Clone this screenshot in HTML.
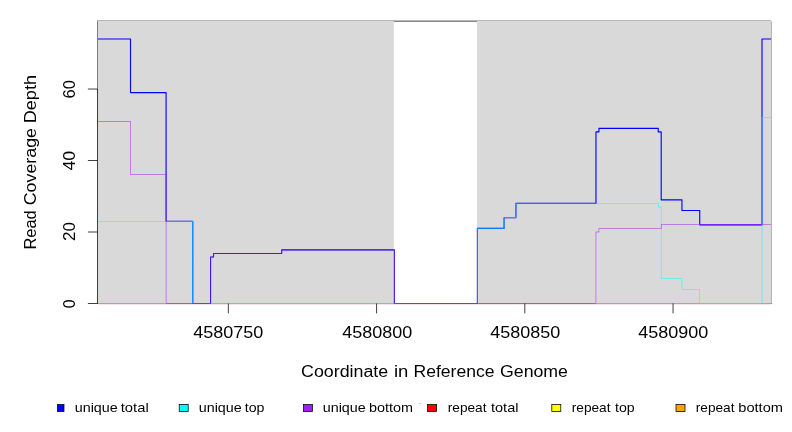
<!DOCTYPE html>
<html><head><meta charset="utf-8"><title>Read Coverage Depth</title>
<style>html,body{margin:0;padding:0;background:#fff;}body{width:792px;height:432px;position:relative;overflow:hidden;font-family:"Liberation Sans",sans-serif;}</style>
</head><body>
<svg width="792" height="432" viewBox="0 0 792 432" style="position:absolute;left:0;top:0">
<rect x="0" y="0" width="792" height="432" fill="#fff"/>
<path d="M97.00,21.13H770.90V303.30" fill="none" stroke="#000" stroke-width="0.75"/>
<rect x="98" y="21" width="295.80" height="282" fill="#d9d9d9"/>
<rect x="477.00" y="21" width="294.00" height="282" fill="#d9d9d9"/>
<rect x="97" y="21" width="1" height="69" fill="#808080"/>
<line x1="97.5" y1="89.02" x2="97.5" y2="303.88" stroke="#000" stroke-width="0.75"/>
<line x1="87.9" y1="303.50" x2="97.5" y2="303.50" stroke="#000" stroke-width="0.75"/>
<line x1="87.9" y1="232.01" x2="97.5" y2="232.01" stroke="#000" stroke-width="0.75"/>
<line x1="87.9" y1="160.51" x2="97.5" y2="160.51" stroke="#000" stroke-width="0.75"/>
<line x1="87.9" y1="89.02" x2="97.5" y2="89.02" stroke="#000" stroke-width="0.75"/>
<clipPath id="c"><rect x="98" y="21.13" width="673" height="283.17"/></clipPath>
<g clip-path="url(#c)" fill="none" stroke-linejoin="round" stroke-linecap="round">
<path d="M94.90,38.97H130.50V92.59H166.08V221.28H192.76V303.50H210.55V257.03H213.52V253.45H281.71V249.88H394.37V303.50H477.38V228.43H504.07V217.71H515.92V203.41H595.97V131.91H598.94V128.34H658.23V131.91H661.20V199.83H681.95V210.56H699.74V224.86H762.00V38.97H773.90" stroke="#0000ff" stroke-width="1.125"/>
<path d="M94.65,221.03H193.01V221.53H94.65ZM192.51,221.03H193.01V303.75H192.51ZM192.51,303.25H477.63V303.75H192.51ZM477.13,228.18H477.63V303.75H477.13ZM477.13,228.18H504.32V228.68H477.13ZM503.82,217.46H504.32V228.68H503.82ZM503.82,217.46H516.17V217.96H503.82ZM515.67,203.16H516.17V217.96H515.67ZM515.67,203.16H658.48V203.66H515.67ZM657.98,203.16H658.48V207.23H657.98ZM657.98,206.73H661.45V207.23H657.98ZM660.95,206.73H661.45V278.73H660.95ZM660.95,278.23H682.20V278.73H660.95ZM681.70,278.23H682.20V289.45H681.70ZM681.70,288.95H699.99V289.45H681.70ZM699.49,288.95H699.99V303.75H699.49ZM699.49,303.25H762.25V303.75H699.49ZM761.75,117.37H762.25V303.75H761.75ZM761.75,117.37H774.15V117.87H761.75Z" fill="#00ffff" stroke="none"/>
<path d="M94.65,120.94H130.75V121.44H94.65ZM130.25,120.94H130.75V175.06H130.25ZM130.25,174.56H166.33V175.06H130.25ZM165.83,174.56H166.33V303.75H165.83ZM165.83,303.25H210.80V303.75H165.83ZM210.30,256.78H210.80V303.75H210.30ZM210.30,256.78H213.77V257.28H210.30ZM213.27,253.20H213.77V257.28H213.27ZM213.27,253.20H281.96V253.70H213.27ZM281.46,249.63H281.96V253.70H281.46ZM281.46,249.63H394.62V250.13H281.46ZM394.12,249.63H394.62V303.75H394.12ZM394.12,303.25H596.22V303.75H394.12ZM595.72,231.76H596.22V303.75H595.72ZM595.72,231.76H599.19V232.26H595.72ZM598.69,228.18H599.19V232.26H598.69ZM598.69,228.18H661.45V228.68H598.69ZM660.95,224.61H661.45V228.68H660.95ZM660.95,224.61H774.15V225.11H660.95Z" fill="#a020f0" stroke="none"/>
</g>
<rect x="98" y="304" width="673" height="1" fill="#f6e4ea"/>
<rect x="98" y="303" width="68.00" height="1" fill="#ff9805"/>
<rect x="166" y="303" width="26.30" height="1" fill="#cd557d"/>
<rect x="192.3" y="303" width="19.10" height="1" fill="#5048f8"/>
<rect x="211.4" y="303" width="182.30" height="1" fill="#78cd87"/>
<rect x="393.7" y="303" width="84.40" height="1" fill="#5048f8"/>
<rect x="478.1" y="303" width="117.80" height="1" fill="#cd557d"/>
<rect x="595.9" y="303" width="103.90" height="1" fill="#ff9805"/>
<rect x="699.8" y="303" width="62.20" height="1" fill="#78cd87"/>
<rect x="762" y="303" width="9.00" height="1" fill="#ff9805"/>
<rect x="771" y="303" width="1.00" height="1" fill="#e27a5a"/>
<line x1="228.34" y1="303.5" x2="228.34" y2="313.4" stroke="#000" stroke-width="0.75"/>
<line x1="376.58" y1="303.5" x2="376.58" y2="313.4" stroke="#000" stroke-width="0.75"/>
<line x1="524.82" y1="303.5" x2="524.82" y2="313.4" stroke="#000" stroke-width="0.75"/>
<line x1="673.06" y1="303.5" x2="673.06" y2="313.4" stroke="#000" stroke-width="0.75"/>
<g style="opacity:0.999">
<text x="193.26" y="337.7" font-family="Liberation Sans, sans-serif" font-size="16" textLength="69.98" lengthAdjust="spacingAndGlyphs">4580750</text>
<text x="342.25" y="337.7" font-family="Liberation Sans, sans-serif" font-size="16" textLength="69.99" lengthAdjust="spacingAndGlyphs">4580800</text>
<text x="490.25" y="337.7" font-family="Liberation Sans, sans-serif" font-size="16" textLength="69.99" lengthAdjust="spacingAndGlyphs">4580850</text>
<text x="638.26" y="337.7" font-family="Liberation Sans, sans-serif" font-size="16" textLength="69.98" lengthAdjust="spacingAndGlyphs">4580900</text>
<text x="74.8" y="308.20" font-family="Liberation Sans, sans-serif" font-size="16" textLength="8.89" lengthAdjust="spacingAndGlyphs" transform="rotate(-90 74.8 308.20)">0</text>
<text x="74.8" y="240.98" font-family="Liberation Sans, sans-serif" font-size="16" textLength="18.97" lengthAdjust="spacingAndGlyphs" transform="rotate(-90 74.8 240.98)">20</text>
<text x="74.8" y="170.48" font-family="Liberation Sans, sans-serif" font-size="16" textLength="19.70" lengthAdjust="spacingAndGlyphs" transform="rotate(-90 74.8 170.48)">40</text>
<text x="74.8" y="98.47" font-family="Liberation Sans, sans-serif" font-size="16" textLength="18.45" lengthAdjust="spacingAndGlyphs" transform="rotate(-90 74.8 98.47)">60</text>
<text x="301.00" y="376.8" font-family="Liberation Sans, sans-serif" font-size="16" textLength="87.24" lengthAdjust="spacingAndGlyphs">Coordinate</text>
<text x="393.93" y="376.8" font-family="Liberation Sans, sans-serif" font-size="16" textLength="14.39" lengthAdjust="spacingAndGlyphs">in</text>
<text x="413.50" y="376.8" font-family="Liberation Sans, sans-serif" font-size="16" textLength="81.01" lengthAdjust="spacingAndGlyphs">Reference</text>
<text x="500.00" y="376.8" font-family="Liberation Sans, sans-serif" font-size="16" textLength="67.99" lengthAdjust="spacingAndGlyphs">Genome</text>
<text x="35.7" y="249.52" font-family="Liberation Sans, sans-serif" font-size="16" textLength="39.28" lengthAdjust="spacingAndGlyphs" transform="rotate(-90 35.7 249.52)">Read</text>
<text x="35.7" y="205.25" font-family="Liberation Sans, sans-serif" font-size="16" textLength="77.24" lengthAdjust="spacingAndGlyphs" transform="rotate(-90 35.7 205.25)">Coverage</text>
<text x="35.7" y="123.28" font-family="Liberation Sans, sans-serif" font-size="16" textLength="48.30" lengthAdjust="spacingAndGlyphs" transform="rotate(-90 35.7 123.28)">Depth</text>
<text x="74.77" y="412.2" font-family="Liberation Sans, sans-serif" font-size="12.6" textLength="42.99" lengthAdjust="spacingAndGlyphs">unique</text>
<text x="120.76" y="412.2" font-family="Liberation Sans, sans-serif" font-size="12.6" textLength="27.97" lengthAdjust="spacingAndGlyphs">total</text>
<text x="198.77" y="412.2" font-family="Liberation Sans, sans-serif" font-size="12.6" textLength="42.99" lengthAdjust="spacingAndGlyphs">unique</text>
<text x="244.76" y="412.2" font-family="Liberation Sans, sans-serif" font-size="12.6" textLength="19.70" lengthAdjust="spacingAndGlyphs">top</text>
<text x="322.76" y="412.2" font-family="Liberation Sans, sans-serif" font-size="12.6" textLength="42.99" lengthAdjust="spacingAndGlyphs">unique</text>
<text x="369.00" y="412.2" font-family="Liberation Sans, sans-serif" font-size="12.6" textLength="44.00" lengthAdjust="spacingAndGlyphs">bottom</text>
<text x="447.77" y="412.2" font-family="Liberation Sans, sans-serif" font-size="12.6" textLength="38.72" lengthAdjust="spacingAndGlyphs">repeat</text>
<text x="491.01" y="412.2" font-family="Liberation Sans, sans-serif" font-size="12.6" textLength="27.46" lengthAdjust="spacingAndGlyphs">total</text>
<text x="571.77" y="412.2" font-family="Liberation Sans, sans-serif" font-size="12.6" textLength="38.72" lengthAdjust="spacingAndGlyphs">repeat</text>
<text x="615.02" y="412.2" font-family="Liberation Sans, sans-serif" font-size="12.6" textLength="19.69" lengthAdjust="spacingAndGlyphs">top</text>
<text x="695.77" y="412.2" font-family="Liberation Sans, sans-serif" font-size="12.6" textLength="38.72" lengthAdjust="spacingAndGlyphs">repeat</text>
<text x="738.25" y="412.2" font-family="Liberation Sans, sans-serif" font-size="12.6" textLength="44.75" lengthAdjust="spacingAndGlyphs">bottom</text>
<rect x="419" y="403" width="2" height="1" fill="#d4d4d4"/>
<clipPath id="lc"><rect x="57" y="390" width="735" height="42"/></clipPath>
<g clip-path="url(#lc)">
<rect x="55.00" y="404.5" width="9" height="7" fill="#0000ff" stroke="#000" stroke-width="0.75"/>
<rect x="179.20" y="404.5" width="9" height="7" fill="#00ffff" stroke="#000" stroke-width="0.75"/>
<rect x="303.40" y="404.5" width="9" height="7" fill="#a020f0" stroke="#000" stroke-width="0.75"/>
<rect x="427.60" y="404.5" width="9" height="7" fill="#ff0000" stroke="#000" stroke-width="0.75"/>
<rect x="551.80" y="404.5" width="9" height="7" fill="#ffff00" stroke="#000" stroke-width="0.75"/>
<rect x="676.00" y="404.5" width="9" height="7" fill="#ffa500" stroke="#000" stroke-width="0.75"/>
</g>
</g>
</svg>
</body></html>
